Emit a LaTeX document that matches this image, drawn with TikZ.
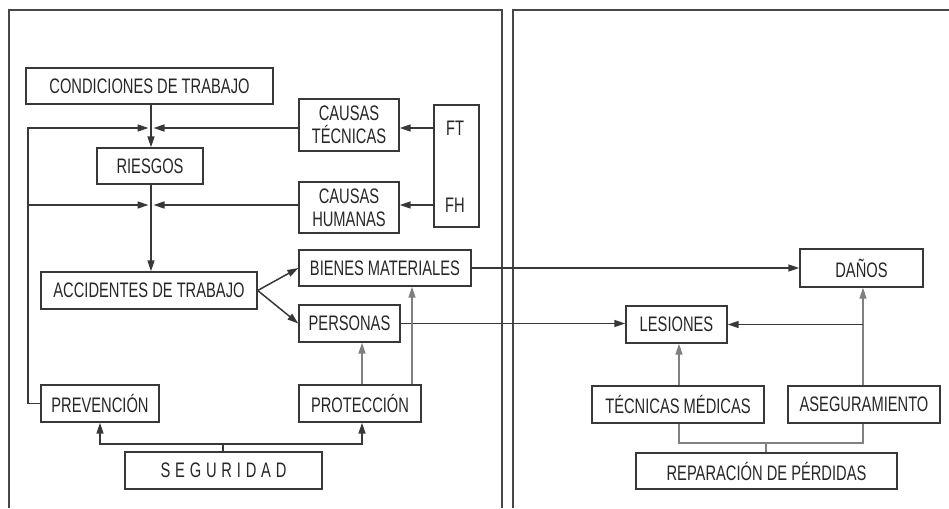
\documentclass[tikz,border=0pt]{standalone}
\usepackage{fontspec}
\setmainfont{Liberation Sans}[FakeStretch=0.70]
\usetikzlibrary{arrows.meta}
\begin{document}
\begin{tikzpicture}[x=1pt,y=-1pt,
  box/.style={draw=black!78,line width=1.4pt,inner sep=0pt,
    font=\fontsize{21}{23}\selectfont,text=black!85,align=center},
  lbl/.style={inner sep=0pt,font=\fontsize{21}{23}\selectfont,text=black!85},
  ln/.style={draw=black!78,line width=1.5pt},
  lt/.style={draw=black!50,line width=1.4pt},
  arr/.style={-{Triangle[length=11pt,width=7pt]}},
  frame/.style={draw=black!72,line width=1.8pt}]
\useasboundingbox (0,0) rectangle (949,508);

% two panels
\draw[frame] (9,508) -- (9,10) -- (502,10) -- (502,508);
\draw[frame] (513,508) -- (513,10) -- (949,10);

% left panel boxes
\node[box,minimum width=247pt,minimum height=36pt] (cond) at (149.5,86) {CONDICIONES DE TRABAJO};
\node[box,minimum width=106pt,minimum height=36pt] (ries) at (150,166) {RIESGOS};
\node[box,minimum width=100pt,minimum height=52pt] (ct) at (349,125) {CAUSAS\\TÉCNICAS};
\node[box,minimum width=100pt,minimum height=51pt] (ch) at (349,207.5) {CAUSAS\\HUMANAS};
\node[box,minimum width=45pt,minimum height=122pt] (fb) at (456.5,166) {};
\node[lbl] (ft) at (455,128) {FT};
\node[lbl] (fh) at (455,205) {FH};
\node[box,minimum width=216pt,minimum height=37pt] (acc) at (149,290.5) {ACCIDENTES DE TRABAJO};
\node[box,minimum width=172pt,minimum height=36pt] (bien) at (385,268) {BIENES MATERIALES};
\node[box,minimum width=101pt,minimum height=37pt] (pers) at (349.5,323.5) {PERSONAS};
\node[box,minimum width=118pt,minimum height=37pt] (prev) at (100,403.5) {PREVENCIÓN};
\node[box,minimum width=122pt,minimum height=37pt] (prot) at (360,403.5) {PROTECCIÓN};
\node[box,minimum width=197pt,minimum height=37pt] (seg) at (223.5,470.5)
  {S\kern4.8pt E\kern4.8pt G\kern4.8pt U\kern4.8pt R\kern4.8pt I\kern4.8pt D\kern4.8pt A\kern4.8pt D};

% right panel boxes
\node[box,minimum width=123pt,minimum height=38pt] (danos) at (861.5,268) {DAÑOS};
\node[box,minimum width=101pt,minimum height=37pt] (les) at (676.5,324.5) {LESIONES};
\node[box,minimum width=172pt,minimum height=37pt] (tec) at (678,404.5) {TÉCNICAS MÉDICAS};
\node[box,minimum width=152pt,minimum height=37pt] (aseg) at (864,404.5) {ASEGURAMIENTO};
\node[box,minimum width=261pt,minimum height=36pt] (rep) at (766.5,471) {REPARACIÓN DE PÉRDIDAS};

% junction and routing points
\coordinate (j1) at (151,128);
\coordinate (j2) at (151,205);
\coordinate (fbk) at (28,128);
\coordinate (pp) at (362,0);
\coordinate (pb) at (412,0);
\coordinate (sb) at (223,444);
\coordinate (ra) at (863,324.5);
\coordinate (tx) at (679,0);
\coordinate (rb) at (766,443);

% causes feeding risks and accidents
\draw[ln,arr] (j1 |- cond.south) -- (j1 |- ries.north);
\draw[ln,arr] (ct.west |- j1) -- ([xshift=2.5pt]j1);
\draw[ln,arr] (j1 |- ries.south) -- (j1 |- acc.north);
\draw[ln,arr] (ch.west |- j2) -- ([xshift=2.5pt]j2);
\draw[ln,arr] (fb.west |- ft) -- (ct.east |- ft);
\draw[ln,arr] (fb.west |- fh) -- (ch.east |- fh);

% prevention feedback
\draw[ln,arr] (prev.west) -| (fbk) -- ([xshift=-2.5pt]j1);
\draw[ln,arr] (fbk |- j2) -- ([xshift=-2.5pt]j2);

% consequences
\draw[ln,arr] (acc.east) -- (bien.west);
\draw[ln,arr] (acc.east) -- (pers.west);
\draw[ln,arr] (bien.east) -- (danos.west);
\draw[ln,arr] (pers.east) -- (pers.east -| les.west);

% protection
\draw[lt,arr] (prot.north -| pp) -- (pers.south -| pp);
\draw[lt,arr] (prot.north -| pb) -- (bien.south -| pb);

% safety branches
\draw[ln] (seg.north -| sb) -- (sb);
\draw[ln,arr] (sb) -| (prev.south);
\draw[ln,arr] (sb) -| (pp |- prot.south);

% loss repair
\draw[lt,arr] (aseg.north -| ra) -- (danos.south -| ra);
\draw[ln,arr] (ra) -- (les.east);
\draw[lt,arr] (tec.north -| tx) -- (les.south -| tx);
\draw[lt] (tec.south -| tx) |- (rb -| ra) -- (aseg.south -| ra);
\draw[lt] (rep.north -| rb) -- (rb);
\end{tikzpicture}
\end{document}
